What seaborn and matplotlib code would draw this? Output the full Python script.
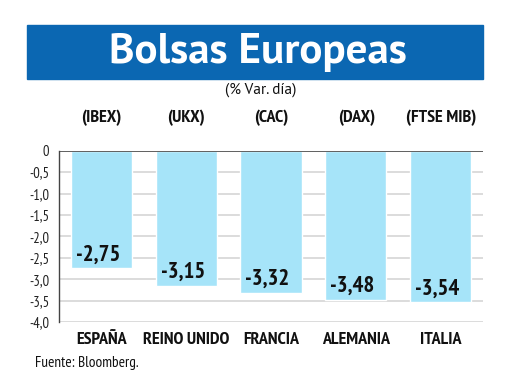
import matplotlib
matplotlib.use("Agg")
import matplotlib.pyplot as plt
import seaborn as sns
import pandas as pd
from matplotlib.patches import Rectangle

countries = ["ESPAÑA", "REINO UNIDO", "FRANCIA", "ALEMANIA", "ITALIA"]
indices = ["(IBEX)", "(UKX)", "(CAC)", "(DAX)", "(FTSE MIB)"]
values = [-2.75, -3.15, -3.32, -3.48, -3.54]
yticks = [0, -0.5, -1.0, -1.5, -2.0, -2.5, -3.0, -3.5, -4.0]
ytick_labels = ["0", "-0,5", "-1,0", "-1,5", "-2,0", "-2,5", "-3,0", "-3,5", "-4,0"]
value_labels = ["-2,75", "-3,15", "-3,32", "-3,48", "-3,54"]

sns.set_theme(style="white")
NARROW = ["PT Sans Narrow", "DejaVu Sans"]
REG = ["PT Sans", "DejaVu Sans"]
plt.rcParams['font.family'] = NARROW

W, H = 520, 390
fig = plt.figure(figsize=(W / 100, H / 100), dpi=100)
fig.patch.set_facecolor("white")

# Banner
fig.patches.append(Rectangle((27 / W, 1 - 79 / H), 456 / W, 54 / H,
                             transform=fig.transFigure, color="#0B67B2", zorder=0))
fig.text(258 / W, 1 - 52 / H, "Bolsas Europeas", color="white", fontsize=31,
         fontweight="bold", ha="center", va="center", family=REG)
fig.text(261 / W, 1 - 90 / H, "(% Var. día)", fontsize=11, ha="center", va="center",
         family=REG, color="#111111")

ax = fig.add_axes([59 / W, 1 - 322 / H, 424 / W, (322 - 150.7) / H])
df = pd.DataFrame({"country": countries, "value": values})
sns.barplot(data=df, x="country", y="value", color="#A6E4F9", saturation=1,
            width=0.72, ax=ax, zorder=3)
ax.set_xlim(-0.5, 4.5)
ax.set_ylim(-4.0, 0)
ax.set_yticks(yticks)
ax.set_yticklabels(ytick_labels, fontsize=10.5, family=NARROW)
ax.tick_params(axis="y", length=0, pad=7, labelcolor="#222222")
ax.tick_params(axis="x", length=0, pad=7)
ax.set_xticks(range(len(countries)))
ax.set_xticklabels(countries, fontsize=13, fontweight="bold", color="#111111",
                   family=NARROW)
ax.set_xlabel("")
ax.set_ylabel("")
for y in yticks[1:]:
    ax.axhline(y, color="#d6d6d6", lw=1.2, zorder=1)
ax.axhline(0, color="#444444", lw=1.2, zorder=4)
for s in ["top", "right", "bottom"]:
    ax.spines[s].set_visible(False)
ax.spines["left"].set_color("#444444")
ax.spines["left"].set_linewidth(1.0)

for i, (v, lab) in enumerate(zip(values, value_labels)):
    ax.text(i - 0.04, v + 0.07, lab, ha="center", va="bottom", fontsize=16.5,
            fontweight="bold", color="#111111", zorder=5, family=NARROW)
for i, lab in enumerate(indices):
    fig.text((101.5 + 85 * i) / W, 1 - 118 / H, lab, ha="center", va="center",
             fontsize=13, fontweight="bold", color="#111111", family=NARROW)

fig.text(35 / W, 1 - 363 / H, "Fuente: Bloomberg.", fontsize=11, ha="left",
         va="center", color="#111111", family=NARROW)

fig.savefig("out.png", dpi=100)
